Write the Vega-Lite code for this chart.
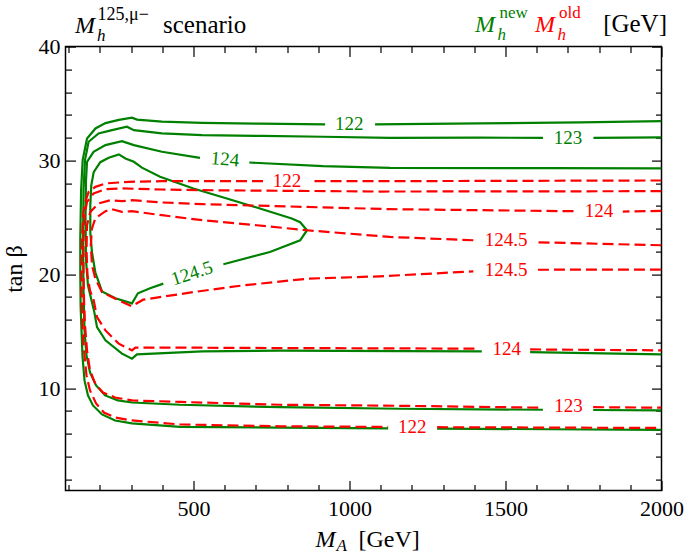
{
  "$schema": "https://vega.github.io/schema/vega-lite/v6.json",
  "width": 596,
  "height": 444,
  "autosize": {"type": "none"},
  "padding": {"left": 65.5, "top": 46.6, "right": 23.5, "bottom": 65.4},
  "background": "white",
  "config": {"view": {"stroke": "black", "strokeWidth": 1.5}, "font": "Liberation Serif, DejaVu Serif, serif"},
  "datasets": {
    "lines": [
      {"c":"new","g":"n122a","x":2000,"y":33.46},{"c":"new","g":"n122a","x":1739,"y":33.34},{"c":"new","g":"n122a","x":1418,"y":33.25},{"c":"new","g":"n122a","x":1082,"y":33.17},
      {"c":"new","g":"n122b","x":922,"y":33.17},{"c":"new","g":"n122b","x":713,"y":33.23},{"c":"new","g":"n122b","x":528,"y":33.3},{"c":"new","g":"n122b","x":399,"y":33.41},{"c":"new","g":"n122b","x":319,"y":33.59},{"c":"new","g":"n122b","x":303,"y":33.76},{"c":"new","g":"n122b","x":261,"y":33.56},{"c":"new","g":"n122b","x":218,"y":33.28},{"c":"new","g":"n122b","x":186,"y":32.81},{"c":"new","g":"n122b","x":159,"y":31.93},{"c":"new","g":"n122b","x":145,"y":30.03},{"c":"new","g":"n122b","x":140,"y":27.39},{"c":"new","g":"n122b","x":137.4,"y":23.17},{"c":"new","g":"n122b","x":137.4,"y":20.18},{"c":"new","g":"n122b","x":138.4,"y":17.27},{"c":"new","g":"n122b","x":141.3,"y":15.07},{"c":"new","g":"n122b","x":144.5,"y":12.79},{"c":"new","g":"n122b","x":150.9,"y":10.68},{"c":"new","g":"n122b","x":162,"y":9.36},{"c":"new","g":"n122b","x":178,"y":8.48},{"c":"new","g":"n122b","x":207,"y":7.69},{"c":"new","g":"n122b","x":249,"y":7.16},{"c":"new","g":"n122b","x":303,"y":6.9},{"c":"new","g":"n122b","x":457,"y":6.6},{"c":"new","g":"n122b","x":778,"y":6.54},{"c":"new","g":"n122b","x":1124,"y":6.47},
      {"c":"new","g":"n122c","x":1281,"y":6.44},{"c":"new","g":"n122c","x":1643,"y":6.39},{"c":"new","g":"n122c","x":2000,"y":6.34},
      {"c":"new","g":"n123a","x":2000,"y":32.02},{"c":"new","g":"n123a","x":1782,"y":31.99},
      {"c":"new","g":"n123b","x":1620,"y":31.99},{"c":"new","g":"n123b","x":1418,"y":32.0},{"c":"new","g":"n123b","x":1130,"y":31.98},{"c":"new","g":"n123b","x":915,"y":32.08},{"c":"new","g":"n123b","x":720,"y":32.15},{"c":"new","g":"n123b","x":528,"y":32.23},{"c":"new","g":"n123b","x":399,"y":32.37},{"c":"new","g":"n123b","x":309,"y":32.66},{"c":"new","g":"n123b","x":287,"y":32.96},{"c":"new","g":"n123b","x":239,"y":32.66},{"c":"new","g":"n123b","x":196,"y":32.37},{"c":"new","g":"n123b","x":164,"y":31.64},{"c":"new","g":"n123b","x":152.5,"y":30.03},{"c":"new","g":"n123b","x":147.7,"y":27.39},{"c":"new","g":"n123b","x":146.1,"y":22.99},{"c":"new","g":"n123b","x":147.7,"y":18.59},{"c":"new","g":"n123b","x":150.9,"y":15.07},{"c":"new","g":"n123b","x":157.3,"y":12.88},{"c":"new","g":"n123b","x":168.5,"y":11.38},{"c":"new","g":"n123b","x":188,"y":10.24},{"c":"new","g":"n123b","x":217,"y":9.36},{"c":"new","g":"n123b","x":258,"y":8.92},{"c":"new","g":"n123b","x":303,"y":8.74},{"c":"new","g":"n123b","x":457,"y":8.54},{"c":"new","g":"n123b","x":778,"y":8.33},{"c":"new","g":"n123b","x":1162,"y":8.19},{"c":"new","g":"n123b","x":1620,"y":8.1},
      {"c":"new","g":"n123c","x":1781,"y":8.08},{"c":"new","g":"n123c","x":2000,"y":8.04},
      {"c":"new","g":"n124a","x":2000,"y":29.3},{"c":"new","g":"n124a","x":1643,"y":29.32},{"c":"new","g":"n124a","x":1130,"y":29.35},{"c":"new","g":"n124a","x":915,"y":29.5},{"c":"new","g":"n124a","x":679,"y":29.82},
      {"c":"new","g":"n124b","x":521,"y":30.23},{"c":"new","g":"n124b","x":399,"y":30.76},{"c":"new","g":"n124b","x":309,"y":31.35},{"c":"new","g":"n124b","x":271,"y":31.7},{"c":"new","g":"n124b","x":218,"y":31.35},{"c":"new","g":"n124b","x":180,"y":30.76},{"c":"new","g":"n124b","x":159,"y":29.88},{"c":"new","g":"n124b","x":155.7,"y":28.27},{"c":"new","g":"n124b","x":154.1,"y":24.75},{"c":"new","g":"n124b","x":155.7,"y":21.23},{"c":"new","g":"n124b","x":162,"y":19.03},{"c":"new","g":"n124b","x":171.7,"y":17.89},{"c":"new","g":"n124b","x":181.3,"y":16.83},{"c":"new","g":"n124b","x":191,"y":15.36},{"c":"new","g":"n124b","x":218,"y":14.2},{"c":"new","g":"n124b","x":271,"y":13.03},{"c":"new","g":"n124b","x":303,"y":12.59},{"c":"new","g":"n124b","x":319,"y":12.96},{"c":"new","g":"n124b","x":528,"y":13.23},{"c":"new","g":"n124b","x":778,"y":13.29},{"c":"new","g":"n124b","x":1162,"y":13.25},{"c":"new","g":"n124b","x":1424,"y":13.23},
      {"c":"new","g":"n124c","x":1579,"y":13.17},{"c":"new","g":"n124c","x":2000,"y":12.96},
      {"c":"new","g":"n1245","x":596,"y":20.88},{"c":"new","g":"n1245","x":745,"y":21.96},{"c":"new","g":"n1245","x":842,"y":22.99},{"c":"new","g":"n1245","x":864,"y":23.87},{"c":"new","g":"n1245","x":842,"y":24.57},{"c":"new","g":"n1245","x":815,"y":24.9},{"c":"new","g":"n1245","x":713,"y":25.78},{"c":"new","g":"n1245","x":607,"y":26.66},{"c":"new","g":"n1245","x":500,"y":27.54},{"c":"new","g":"n1245","x":393,"y":28.56},{"c":"new","g":"n1245","x":335,"y":29.37},{"c":"new","g":"n1245","x":309,"y":29.88},{"c":"new","g":"n1245","x":282,"y":30.18},{"c":"new","g":"n1245","x":261,"y":30.53},{"c":"new","g":"n1245","x":228.5,"y":30.23},{"c":"new","g":"n1245","x":201.5,"y":29.85},{"c":"new","g":"n1245","x":180.4,"y":28.97},{"c":"new","g":"n1245","x":172.7,"y":27.83},{"c":"new","g":"n1245","x":169.5,"y":26.07},{"c":"new","g":"n1245","x":169.5,"y":23.69},{"c":"new","g":"n1245","x":174.9,"y":21.93},{"c":"new","g":"n1245","x":185.5,"y":20.18},{"c":"new","g":"n1245","x":207,"y":18.5},{"c":"new","g":"n1245","x":250,"y":17.89},{"c":"new","g":"n1245","x":303,"y":17.45},{"c":"new","g":"n1245","x":322,"y":18.33},{"c":"new","g":"n1245","x":361,"y":18.77},{"c":"new","g":"n1245","x":403.5,"y":19.18},
      {"c":"old","g":"o122a","x":2000,"y":28.24},{"c":"old","g":"o122a","x":1098,"y":28.18},{"c":"old","g":"o122a","x":879,"y":28.18},
      {"c":"old","g":"o122b","x":723,"y":28.18},{"c":"old","g":"o122b","x":528,"y":28.18},{"c":"old","g":"o122b","x":399,"y":28.18},{"c":"old","g":"o122b","x":293,"y":28.12},{"c":"old","g":"o122b","x":218,"y":27.98},{"c":"old","g":"o122b","x":186,"y":27.68},{"c":"old","g":"o122b","x":164,"y":27.24},{"c":"old","g":"o122b","x":153.5,"y":26.36},{"c":"old","g":"o122b","x":146.1,"y":25.19},{"c":"old","g":"o122b","x":142.9,"y":22.99},{"c":"old","g":"o122b","x":141.3,"y":20.18},{"c":"old","g":"o122b","x":142.2,"y":17.71},{"c":"old","g":"o122b","x":144.5,"y":15.51},{"c":"old","g":"o122b","x":149.3,"y":13.32},{"c":"old","g":"o122b","x":157.3,"y":11.12},{"c":"old","g":"o122b","x":168.5,"y":9.8},{"c":"old","g":"o122b","x":188,"y":8.65},{"c":"old","g":"o122b","x":213,"y":7.86},{"c":"old","g":"o122b","x":249,"y":7.42},{"c":"old","g":"o122b","x":303,"y":7.16},{"c":"old","g":"o122b","x":457,"y":6.81},{"c":"old","g":"o122b","x":778,"y":6.65},{"c":"old","g":"o122b","x":1124,"y":6.59},
      {"c":"old","g":"o122c","x":1281,"y":6.57},{"c":"old","g":"o122c","x":2000,"y":6.5},
      {"c":"old","g":"o123a","x":2000,"y":27.3},{"c":"old","g":"o123a","x":1098,"y":27.27},{"c":"old","g":"o123a","x":528,"y":27.39},{"c":"old","g":"o123a","x":399,"y":27.45},{"c":"old","g":"o123a","x":271,"y":27.54},{"c":"old","g":"o123a","x":218,"y":27.48},{"c":"old","g":"o123a","x":180,"y":27.1},{"c":"old","g":"o123a","x":159,"y":26.36},{"c":"old","g":"o123a","x":151,"y":25.19},{"c":"old","g":"o123a","x":147.7,"y":22.99},{"c":"old","g":"o123a","x":147.7,"y":20.18},{"c":"old","g":"o123a","x":149.3,"y":17.71},{"c":"old","g":"o123a","x":152.5,"y":15.51},{"c":"old","g":"o123a","x":159,"y":13.32},{"c":"old","g":"o123a","x":168.5,"y":11.56},{"c":"old","g":"o123a","x":185,"y":10.41},{"c":"old","g":"o123a","x":210,"y":9.62},{"c":"old","g":"o123a","x":249,"y":9.18},{"c":"old","g":"o123a","x":303,"y":8.92},{"c":"old","g":"o123a","x":457,"y":8.79},{"c":"old","g":"o123a","x":778,"y":8.54},{"c":"old","g":"o123a","x":1162,"y":8.45},{"c":"old","g":"o123a","x":1620,"y":8.28},
      {"c":"old","g":"o123b","x":1781,"y":8.33},{"c":"old","g":"o123b","x":2000,"y":8.28},
      {"c":"old","g":"o124a","x":2000,"y":25.57},{"c":"old","g":"o124a","x":1876,"y":25.51},
      {"c":"old","g":"o124b","x":1718,"y":25.54},{"c":"old","g":"o124b","x":1130,"y":25.72},{"c":"old","g":"o124b","x":528,"y":26.16},{"c":"old","g":"o124b","x":399,"y":26.31},{"c":"old","g":"o124b","x":303,"y":26.51},{"c":"old","g":"o124b","x":271,"y":26.42},{"c":"old","g":"o124b","x":234,"y":26.51},{"c":"old","g":"o124b","x":196,"y":26.22},{"c":"old","g":"o124b","x":169.5,"y":25.48},{"c":"old","g":"o124b","x":159,"y":24.31},{"c":"old","g":"o124b","x":157.3,"y":22.11},{"c":"old","g":"o124b","x":160.5,"y":19.91},{"c":"old","g":"o124b","x":168.5,"y":18.59},{"c":"old","g":"o124b","x":180.4,"y":17.71},{"c":"old","g":"o124b","x":191,"y":16.24},{"c":"old","g":"o124b","x":218,"y":15.07},{"c":"old","g":"o124b","x":260.5,"y":13.91},{"c":"old","g":"o124b","x":303,"y":13.32},{"c":"old","g":"o124b","x":314,"y":13.55},{"c":"old","g":"o124b","x":528,"y":13.55},{"c":"old","g":"o124b","x":778,"y":13.52},{"c":"old","g":"o124b","x":1408,"y":13.47},
      {"c":"old","g":"o124c","x":1579,"y":13.4},{"c":"old","g":"o124c","x":2000,"y":13.32},
      {"c":"old","g":"o1245a","x":2000,"y":22.55},{"c":"old","g":"o1245a","x":1604,"y":22.81},
      {"c":"old","g":"o1245b","x":1397,"y":22.99},{"c":"old","g":"o1245b","x":1130,"y":23.28},{"c":"old","g":"o1245b","x":863,"y":23.87},{"c":"old","g":"o1245b","x":703,"y":24.31},{"c":"old","g":"o1245b","x":528,"y":24.75},{"c":"old","g":"o1245b","x":399,"y":25.19},{"c":"old","g":"o1245b","x":303,"y":25.54},{"c":"old","g":"o1245b","x":271,"y":25.48},{"c":"old","g":"o1245b","x":239,"y":25.72},{"c":"old","g":"o1245b","x":218,"y":25.54},{"c":"old","g":"o1245b","x":185.5,"y":24.9},{"c":"old","g":"o1245b","x":174.9,"y":24.02},{"c":"old","g":"o1245b","x":171.1,"y":22.55},{"c":"old","g":"o1245b","x":174.9,"y":20.79},{"c":"old","g":"o1245b","x":185.5,"y":19.62},{"c":"old","g":"o1245b","x":207,"y":18.44},{"c":"old","g":"o1245b","x":250,"y":17.86},{"c":"old","g":"o1245b","x":302,"y":17.19},{"c":"old","g":"o1245b","x":339,"y":17.77},{"c":"old","g":"o1245b","x":500,"y":18.44},{"c":"old","g":"o1245b","x":660,"y":19.03},{"c":"old","g":"o1245b","x":868,"y":19.62},{"c":"old","g":"o1245b","x":1098,"y":19.82},{"c":"old","g":"o1245b","x":1397,"y":20.26},
      {"c":"old","g":"o1245c","x":1604,"y":20.4},{"c":"old","g":"o1245c","x":2000,"y":20.41}
    ],
    "labels": [
      {"c":"new","t":"122","x":999,"y":33.24},
      {"c":"new","t":"123","x":1700,"y":32.0},
      {"c":"new","t":"124","x":601,"y":30.1},
      {"c":"new","t":"124.5","x":495,"y":20.09},
      {"c":"old","t":"122","x":800,"y":28.21},
      {"c":"old","t":"124","x":1800,"y":25.6},
      {"c":"old","t":"124.5","x":1502,"y":23.0},
      {"c":"old","t":"124.5","x":1502,"y":20.4},
      {"c":"old","t":"122","x":1201,"y":6.63},
      {"c":"old","t":"123","x":1702,"y":8.39},
      {"c":"old","t":"124","x":1504,"y":13.47}
    ]
  },
  "layer": [
    {
      "data": {"name": "lines"},
      "transform": [{"filter": "datum.c === 'new'"}],
      "mark": {"type": "line", "color": "#008000", "strokeWidth": 2.2, "clip": true},
      "encoding": {
        "x": {"field": "x", "type": "quantitative",
          "scale": {"domain": [90, 2000], "nice": false, "zero": false},
          "axis": {"orient": "bottom", "values": [100,200,300,400,500,600,700,800,900,1000,1100,1200,1300,1400,1500,1600,1700,1800,1900,2000],
            "format": "d", "labelExpr": "datum.value % 500 === 0 ? datum.label : ''",
            "tickSize": {"condition": {"test": "datum.value % 500 === 0", "value": -10}, "value": -6},
            "tickColor": "black", "tickWidth": 1.2, "domain": false, "grid": false,
            "labelFont": "Liberation Serif, DejaVu Serif, serif", "labelFontSize": 22, "labelColor": "black", "labelPadding": 18,
            "labelFlush": false, "labelOverlap": false, "labelBound": false, "title": null}},
        "y": {"field": "y", "type": "quantitative",
          "scale": {"domain": [1, 40], "nice": false, "zero": false},
          "axis": {"orient": "left", "values": [2,4,6,8,10,12,14,16,18,20,22,24,26,28,30,32,34,36,38,40],
            "format": "d", "labelExpr": "datum.value % 10 === 0 ? datum.label : ''",
            "tickSize": {"condition": {"test": "datum.value % 10 === 0", "value": -10}, "value": -6},
            "tickColor": "black", "tickWidth": 1.2, "domain": false, "grid": false,
            "labelFont": "Liberation Serif, DejaVu Serif, serif", "labelFontSize": 22, "labelColor": "black", "labelPadding": 15.5,
            "labelOverlap": false, "labelFlush": false,
            "title": "tan β", "titleFont": "Liberation Serif, DejaVu Serif, serif", "titleFontSize": 24, "titleFontWeight": "normal", "titleColor": "black", "titlePadding": 12}},
        "detail": {"field": "g"},
        "order": {"value": null}
      }
    },
    {
      "data": {"name": "lines"},
      "transform": [{"filter": "datum.c === 'old'"}],
      "mark": {"type": "line", "color": "#ff0000", "strokeWidth": 2.2, "strokeDash": [11, 5], "clip": true},
      "encoding": {
        "x": {"field": "x", "type": "quantitative",
          "scale": {"domain": [90, 2000], "nice": false, "zero": false},
          "axis": {"orient": "top", "values": [100,200,300,400,500,600,700,800,900,1000,1100,1200,1300,1400,1500,1600,1700,1800,1900,2000],
            "labels": false,
            "tickSize": {"condition": {"test": "datum.value % 500 === 0", "value": -10}, "value": -6},
            "tickColor": "black", "tickWidth": 1.2, "domain": false, "grid": false, "title": null}},
        "y": {"field": "y", "type": "quantitative",
          "scale": {"domain": [1, 40], "nice": false, "zero": false},
          "axis": {"orient": "right", "values": [2,4,6,8,10,12,14,16,18,20,22,24,26,28,30,32,34,36,38,40],
            "labels": false,
            "tickSize": {"condition": {"test": "datum.value % 10 === 0", "value": -10}, "value": -6},
            "tickColor": "black", "tickWidth": 1.2, "domain": false, "grid": false, "title": null}},
        "detail": {"field": "g"},
        "order": {"value": null}
      }
    },
    {
      "data": {"name": "labels"},
      "transform": [{"filter": "datum.c === 'new' && (datum.t === '122' || datum.t === '123')"}],
      "mark": {"type": "text", "color": "#008000", "font": "Liberation Serif, DejaVu Serif, serif", "fontSize": 19, "align": "center", "baseline": "middle"},
      "encoding": {
        "x": {"field": "x", "type": "quantitative", "axis": null},
        "y": {"field": "y", "type": "quantitative", "axis": null},
        "text": {"field": "t"}
      }
    },
    {
      "data": {"name": "labels"},
      "transform": [{"filter": "datum.c === 'new' && datum.t === '124'"}],
      "mark": {"type": "text", "color": "#008000", "font": "Liberation Serif, DejaVu Serif, serif", "fontSize": 19, "align": "center", "baseline": "middle", "angle": 5},
      "encoding": {
        "x": {"field": "x", "type": "quantitative", "axis": null},
        "y": {"field": "y", "type": "quantitative", "axis": null},
        "text": {"field": "t"}
      }
    },
    {
      "data": {"name": "labels"},
      "transform": [{"filter": "datum.c === 'new' && datum.t === '124.5'"}],
      "mark": {"type": "text", "color": "#008000", "font": "Liberation Serif, DejaVu Serif, serif", "fontSize": 19, "align": "center", "baseline": "middle", "angle": -18},
      "encoding": {
        "x": {"field": "x", "type": "quantitative", "axis": null},
        "y": {"field": "y", "type": "quantitative", "axis": null},
        "text": {"field": "t"}
      }
    },
    {
      "data": {"name": "labels"},
      "transform": [{"filter": "datum.c === 'old'"}],
      "mark": {"type": "text", "color": "#ff0000", "font": "Liberation Serif, DejaVu Serif, serif", "fontSize": 19, "align": "center", "baseline": "middle"},
      "encoding": {
        "x": {"field": "x", "type": "quantitative", "axis": null},
        "y": {"field": "y", "type": "quantitative", "axis": null},
        "text": {"field": "t"}
      }
    },
    {
      "data": {"values": [{"k": "title"}]},
      "encoding": {
        "x": {"datum": 90, "type": "quantitative", "axis": null},
        "y": {"datum": 40, "type": "quantitative", "axis": null}
      },
      "layer": [
        {"mark": {"type": "text", "text": "M", "font": "Liberation Serif, DejaVu Serif, serif", "fontStyle": "italic", "fontSize": 24, "color": "black", "align": "left", "baseline": "alphabetic", "dx": 9.5, "dy": -14}},
        {"mark": {"type": "text", "text": "h", "font": "Liberation Serif, DejaVu Serif, serif", "fontStyle": "italic", "fontSize": 17, "color": "black", "align": "left", "baseline": "alphabetic", "dx": 31.5, "dy": -6}},
        {"mark": {"type": "text", "text": "125,μ−", "font": "Liberation Serif, DejaVu Serif, serif", "fontSize": 18, "color": "black", "align": "left", "baseline": "alphabetic", "dx": 32, "dy": -27}},
        {"mark": {"type": "text", "text": "scenario", "font": "Liberation Serif, DejaVu Serif, serif", "fontSize": 25, "color": "black", "align": "left", "baseline": "alphabetic", "dx": 97.5, "dy": -14}}
      ]
    },
    {
      "data": {"values": [{"k": "legend"}]},
      "encoding": {
        "x": {"datum": 2000, "type": "quantitative", "axis": null},
        "y": {"datum": 40, "type": "quantitative", "axis": null}
      },
      "layer": [
        {"mark": {"type": "text", "text": "M", "font": "Liberation Serif, DejaVu Serif, serif", "fontStyle": "italic", "fontSize": 24, "color": "#008000", "align": "left", "baseline": "alphabetic", "dx": -186.5, "dy": -15}},
        {"mark": {"type": "text", "text": "h", "font": "Liberation Serif, DejaVu Serif, serif", "fontStyle": "italic", "fontSize": 17, "color": "#008000", "align": "left", "baseline": "alphabetic", "dx": -164, "dy": -7}},
        {"mark": {"type": "text", "text": "new", "font": "Liberation Serif, DejaVu Serif, serif", "fontSize": 17, "color": "#008000", "align": "left", "baseline": "alphabetic", "dx": -162, "dy": -28.5}},
        {"mark": {"type": "text", "text": "M", "font": "Liberation Serif, DejaVu Serif, serif", "fontStyle": "italic", "fontSize": 24, "color": "#ff0000", "align": "left", "baseline": "alphabetic", "dx": -126.5, "dy": -15}},
        {"mark": {"type": "text", "text": "h", "font": "Liberation Serif, DejaVu Serif, serif", "fontStyle": "italic", "fontSize": 17, "color": "#ff0000", "align": "left", "baseline": "alphabetic", "dx": -104, "dy": -7}},
        {"mark": {"type": "text", "text": "old", "font": "Liberation Serif, DejaVu Serif, serif", "fontSize": 17, "color": "#ff0000", "align": "left", "baseline": "alphabetic", "dx": -102.5, "dy": -28.5}},
        {"mark": {"type": "text", "text": "[GeV]", "font": "Liberation Serif, DejaVu Serif, serif", "fontSize": 25, "color": "black", "align": "right", "baseline": "alphabetic", "dx": 5.5, "dy": -15}}
      ]
    },
    {
      "data": {"values": [{"k": "xtitle"}]},
      "encoding": {
        "x": {"datum": 1000, "type": "quantitative", "axis": null},
        "y": {"datum": 1, "type": "quantitative", "axis": null}
      },
      "layer": [
        {"mark": {"type": "text", "text": "M", "font": "Liberation Serif, DejaVu Serif, serif", "fontStyle": "italic", "fontSize": 24, "color": "black", "align": "left", "baseline": "alphabetic", "dx": -34, "dy": 56}},
        {"mark": {"type": "text", "text": "A", "font": "Liberation Serif, DejaVu Serif, serif", "fontStyle": "italic", "fontSize": 17, "color": "black", "align": "left", "baseline": "alphabetic", "dx": -13, "dy": 60}},
        {"mark": {"type": "text", "text": "[GeV]", "font": "Liberation Serif, DejaVu Serif, serif", "fontSize": 24, "color": "black", "align": "left", "baseline": "alphabetic", "dx": 9, "dy": 56}}
      ]
    }
  ],
  "resolve": {"axis": {"x": "independent", "y": "independent"}}
}
